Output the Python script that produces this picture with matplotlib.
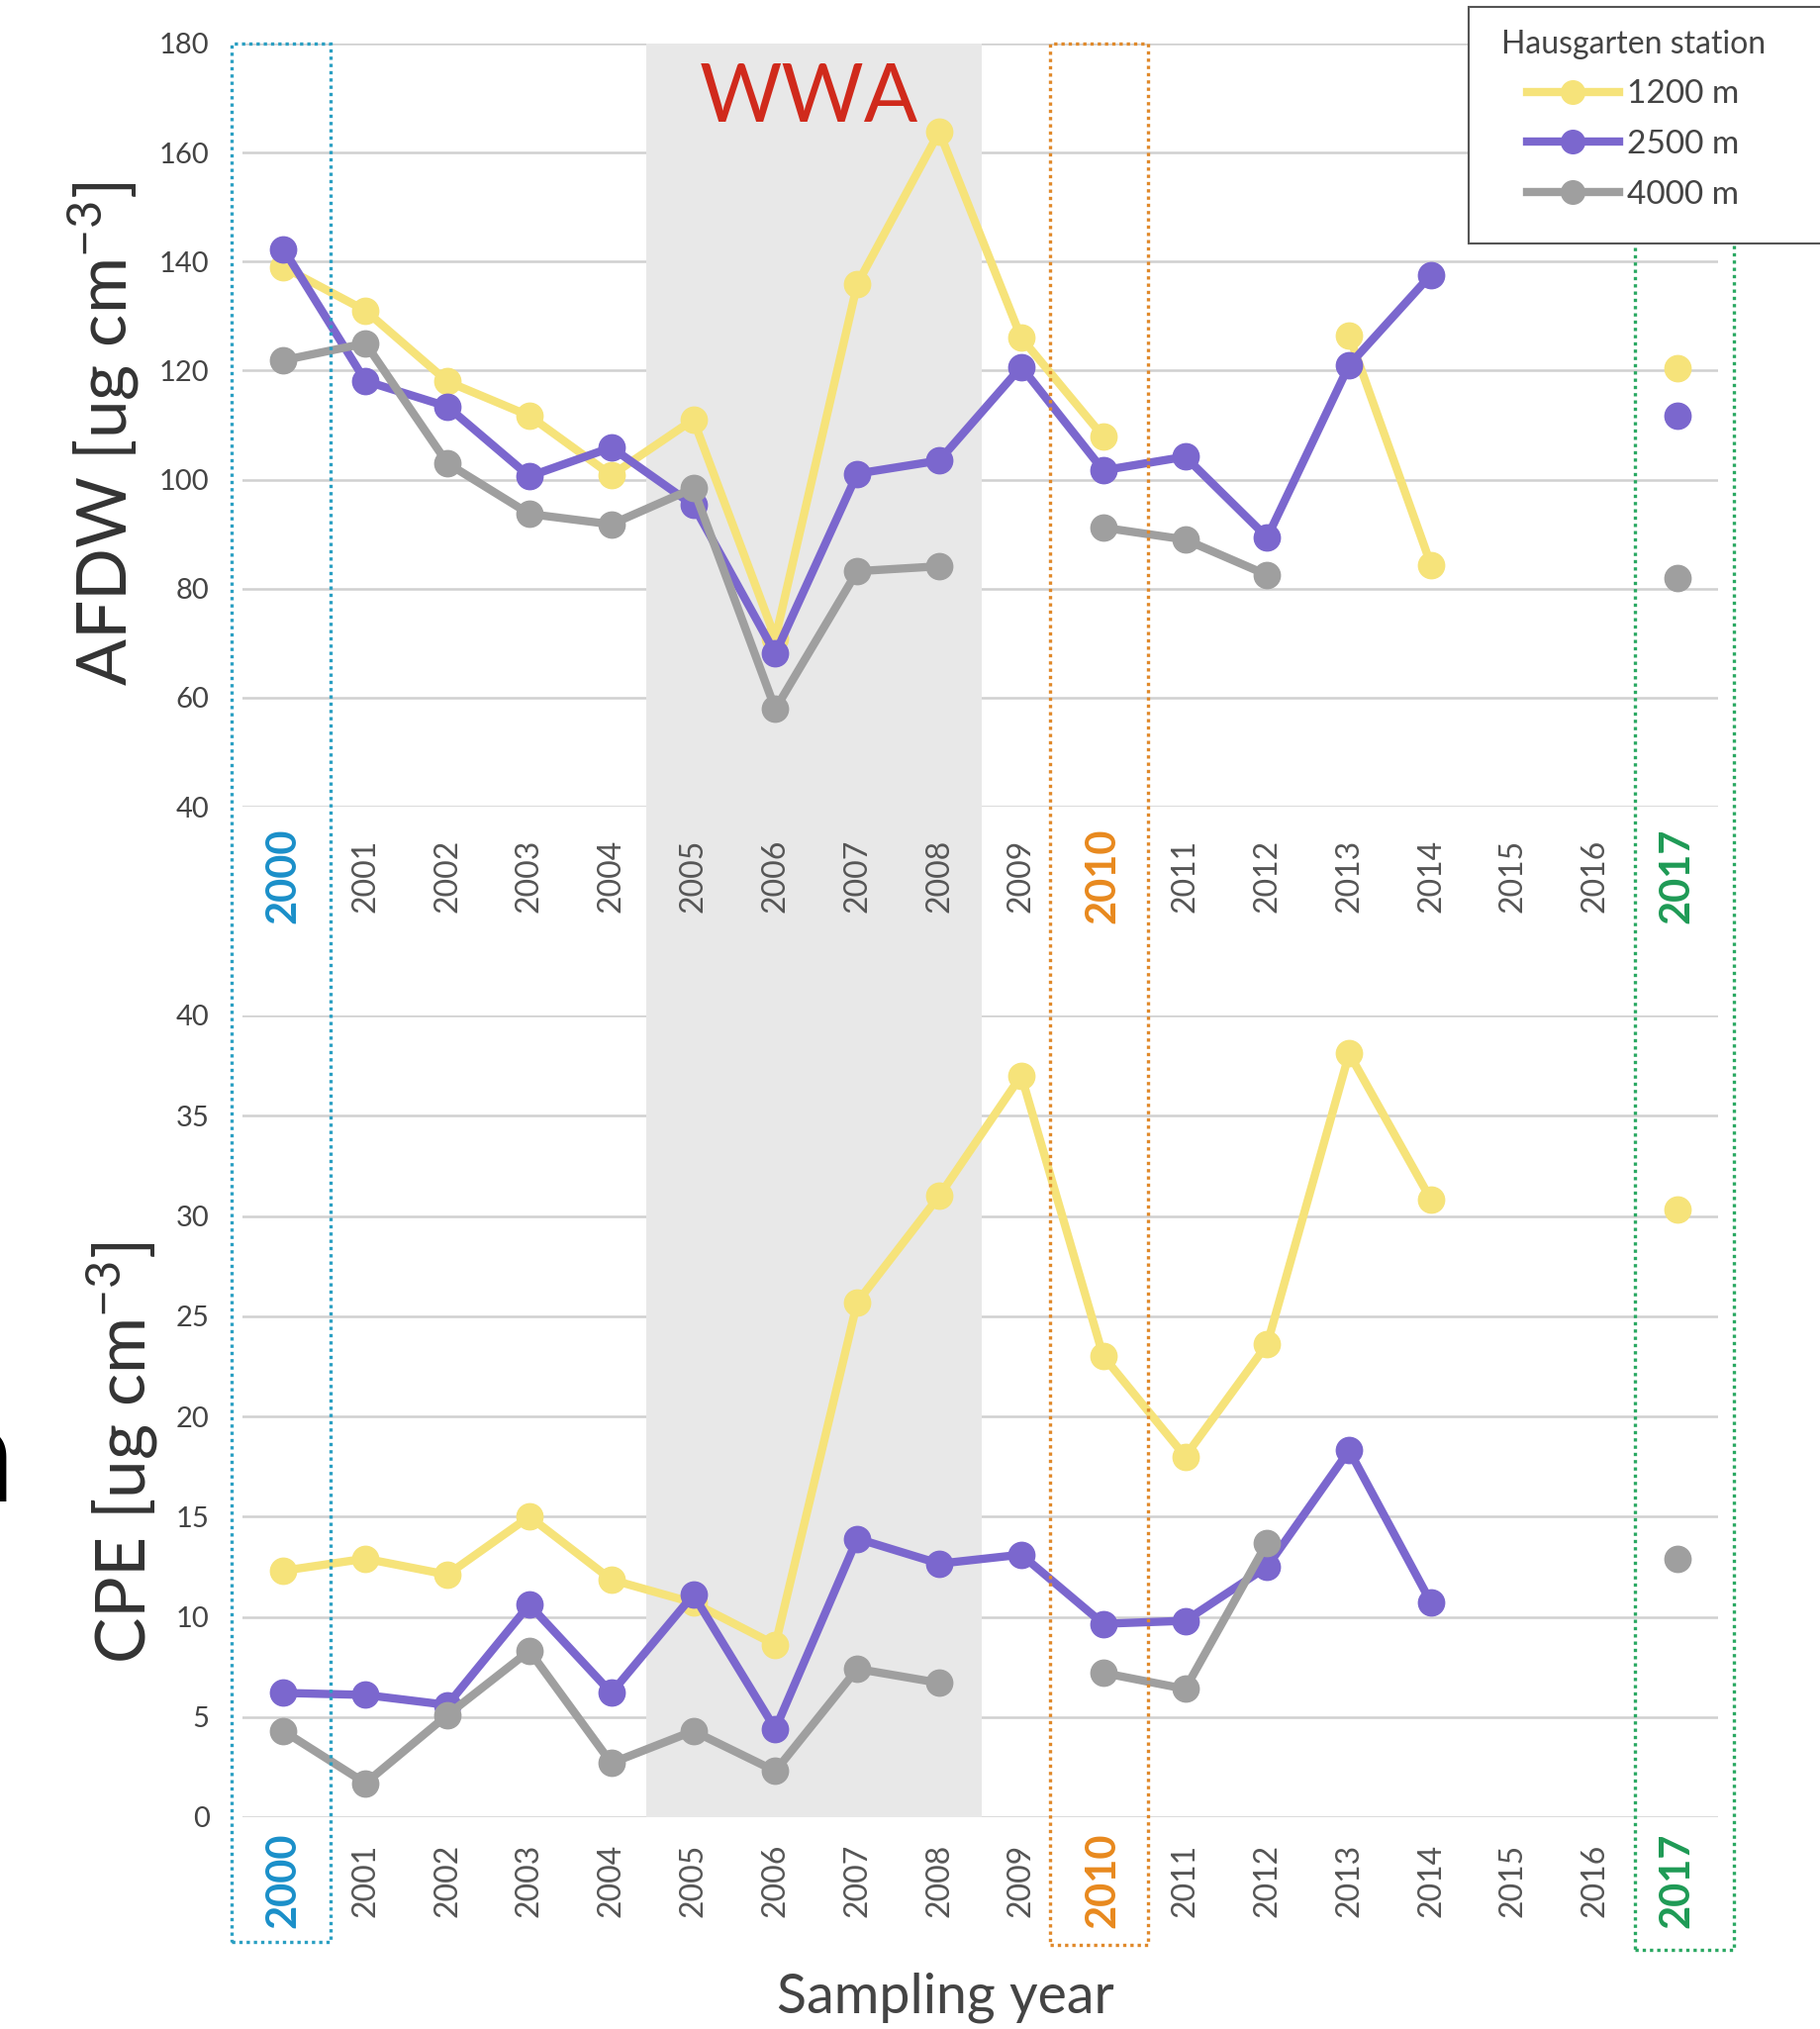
import numpy as np
import matplotlib
matplotlib.use('Agg')
import matplotlib.pyplot as plt
from matplotlib.patches import Rectangle
from matplotlib.lines import Line2D
from matplotlib.transforms import blended_transform_factory

plt.rcParams['font.family'] = ['Lato', 'DejaVu Sans']
plt.rcParams['mathtext.default'] = 'regular'

nan = np.nan
years = list(range(2000, 2018))
depths = ['1200 m', '2500 m', '4000 m']

# AFDW [ug cm-3]
afdw_1200 = [139, 131, 118, 111.7, 100.8, 111, 70.9, 135.9, 163.8, 126, 107.9, nan, nan, 126.4, 84.3, nan, nan, 120.5]
afdw_2500 = [142.3, 118.1, 113.4, 100.6, 105.9, 95.3, 68.1, 101.1, 103.5, 120.7, 101.7, 104.2, 89.4, 121, 137.6, nan, nan, 111.7]
afdw_4000 = [121.9, 125, 103, 93.7, 91.8, 98.4, 57.9, 83.2, 84.1, nan, 91.2, 89, 82.5, nan, nan, nan, nan, 81.9]

# CPE [ug cm-3]
cpe_1200 = [12.3, 12.9, 12.1, 15.0, 11.85, 10.7, 8.6, 25.7, 31.0, 37.0, 23.0, 18.0, 23.6, 38.1, 30.8, nan, nan, 30.3]
cpe_2500 = [6.2, 6.1, 5.6, 10.6, 6.2, 11.1, 4.4, 13.9, 12.65, 13.1, 9.65, 9.8, 12.5, 18.3, 10.7, nan, nan, nan]
cpe_4000 = [4.3, 1.7, 5.1, 8.3, 2.7, 4.3, 2.3, 7.4, 6.7, nan, 7.2, 6.4, 13.7, nan, nan, nan, nan, 12.9]

wwa_years = (2005, 2008)

colors = ['#F6E37A', '#7B67CE', '#9F9F9F']
label_colors = {2000: '#1A8FC9', 2010: '#E8891E', 2017: '#1E9A55'}
box_colors = {2000: '#2A9FC2', 2010: '#E0892A', 2017: '#2AA862'}
shade = '#e8e8e8'
txt = '#444444'

W, H = 1839, 2050


def fy(px):
    return 1 - px / H


fig = plt.figure(figsize=(W / 100, H / 100), dpi=100)
L, R = 245 / W, 1736 / W
ax1 = fig.add_axes([L, fy(815), R - L, fy(44) - fy(815)])
ax2 = fig.add_axes([L, fy(1836), R - L, fy(1026) - fy(1836)])

x = np.arange(len(years))
s0 = years.index(wwa_years[0]) - 0.58
s1 = years.index(wwa_years[1]) + 0.52


def style(ax, lo, hi, step, pad):
    ax.set_xlim(-0.5, len(years) - 0.5)
    ax.set_ylim(lo, hi)
    ax.set_yticks(np.arange(lo, hi + step / 2, step))
    ax.set_axisbelow(True)
    ax.grid(axis='y', color='#d0d0d0', lw=1.8)
    ax.set_facecolor('none')
    for s in ax.spines.values():
        s.set_visible(False)
    ax.tick_params(length=0)
    ax.tick_params(axis='y', labelsize=21, labelcolor=txt, pad=24)
    ax.set_xticks(x)
    ax.set_xticklabels([str(y) for y in years], rotation=90, va='center')
    ax.tick_params(axis='x', pad=pad)
    for lab, yr in zip(ax.get_xticklabels(), years):
        if yr in label_colors:
            lab.set_color(label_colors[yr])
            lab.set_fontweight('bold')
            lab.set_fontsize(30)
        else:
            lab.set_color('#555555')
            lab.set_fontsize(23)
    ax.axvspan(s0, s1, color=shade, lw=0, zorder=1)


style(ax1, 40, 180, 20, 50)
style(ax2, 0, 40, 5, 46)

for vals, c in zip([afdw_1200, afdw_2500, afdw_4000], colors):
    ax1.plot(x, vals, color=c, lw=6, marker='o', ms=19, zorder=3)
for vals, c in zip([cpe_1200, cpe_2500, cpe_4000], colors):
    ax2.plot(x, vals, color=c, lw=6, marker='o', ms=19, zorder=3)

ax1.set_ylabel('AFDW [ug cm$^{-3}$]', fontsize=50, color='#333333')
ax1.yaxis.set_label_coords(-0.094, 0.489)
ax1.yaxis.label.set_va('center')
ax2.set_ylabel('CPE [ug cm$^{-3}$]', fontsize=50, color='#333333')
ax2.yaxis.set_label_coords(-0.081, 0.454)
ax2.yaxis.label.set_va('center')

blend = blended_transform_factory(ax1.transData, fig.transFigure)
# shading across the gap between the panels
fig.add_artist(Rectangle((s0, fy(1026)), s1 - s0, fy(815) - fy(1026),
                         transform=blend, color=shade, lw=0, zorder=-1))

# dotted boxes around the marked years
for yr, lo, hi, bot in [(2000, -0.63, 0.57, 1962), (2010, -0.65, 0.55, 1965), (2017, -0.52, 0.69, 1970)]:
    i = years.index(yr)
    fig.add_artist(Rectangle((i + lo, fy(bot)), hi - lo, fy(44) - fy(bot), transform=blend,
                             fill=False, ec=box_colors[yr], lw=2.4, ls=(0, (1, 1.2)), zorder=10))

fig.text(817 / W, fy(123), 'WWA', ha='center', va='baseline', fontsize=58, color='#D02A1C')
fig.text(955 / W, fy(2033), 'Sampling year', ha='center', va='baseline', fontsize=40, color=txt)
fig.text(15 / W, fy(1517), 'n', ha='right', va='baseline', fontsize=100, color='black')

# legend
fig.add_artist(Rectangle((1484 / W, fy(246)), 0.3, fy(7) - fy(246), transform=fig.transFigure,
                         fc='white', ec='#555555', lw=1.5, zorder=20))
handles = [Line2D([], [], color=c, lw=6, marker='o', ms=17) for c in colors]
leg = fig.legend(handles, depths, title='Hausgarten station', loc='upper left',
                 bbox_to_anchor=(1500 / W, fy(13)), frameon=False, fontsize=24, title_fontsize=23,
                 handlelength=2.8, handletextpad=0.25, labelspacing=0.62, borderpad=0)
leg.set_zorder(21)
leg.get_title().set_color(txt)
for t in leg.get_texts():
    t.set_color(txt)

fig.savefig('out.png', dpi=100)
